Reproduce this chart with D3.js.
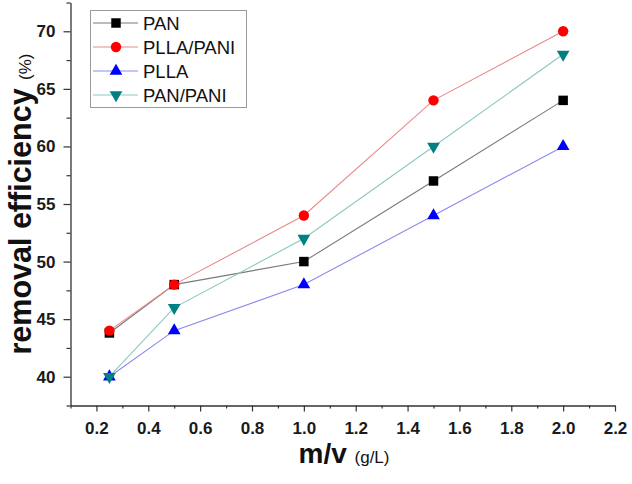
<!DOCTYPE html>
<html>
<head>
<meta charset="utf-8">
<script src="https://cdn.jsdelivr.net/npm/d3@7"></script>
<style>
  html, body { margin: 0; padding: 0; background: #fff; }
  svg { display: block; font-family: Arial, "Liberation Sans", sans-serif; }
</style>
</head>
<body>
<svg id="chart" width="632" height="484"></svg>
<script>
// ---- data ----
const xValues = [0.25, 0.5, 1.0, 1.5, 2.0];
const seriesNames = ["PAN", "PLLA/PANI", "PLLA", "PAN/PANI"];
const panValues = [43.8, 48, 50, 57, 64];
const pllaPaniValues = [44, 48, 54, 64, 70];
const pllaValues = [40, 44, 48, 54, 60];
const panPaniValues = [40, 46, 52, 60, 68];
const xTickLabels = [0.2, 0.4, 0.6, 0.8, 1.0, 1.2, 1.4, 1.6, 1.8, 2.0, 2.2];
const yTickLabels = [40, 45, 50, 55, 60, 65, 70];

const seriesStyle = [
  { marker: "square",   fill: "#000000", line: "#7a7a7a" },
  { marker: "circle",   fill: "#ff0000", line: "#e88a8a" },
  { marker: "triangle", fill: "#0000ff", line: "#8a8aee" },
  { marker: "down",     fill: "#008080", line: "#8cc8c2" }
];
const seriesValues = [panValues, pllaPaniValues, pllaValues, panPaniValues];

const svg = d3.select("#chart");
const x = d3.scaleLinear().domain([0.1, 2.2]).range([70.5, 615]);
const y = d3.scaleLinear().domain([37.5, 72.5]).range([405.5, 2.5]);

// ---- axes ----
const xMinor = d3.range(0.1, 2.25, 0.2).map(v => +v.toFixed(2));
const yMinor = d3.range(37.5, 73, 5);

const gx = svg.append("g").attr("transform", "translate(0,405.5)");
gx.call(d3.axisBottom(x).tickValues(xTickLabels).tickSize(6).tickSizeOuter(0).tickPadding(10)
  .tickFormat(d3.format(".1f")));
gx.append("g").call(d3.axisBottom(x).tickValues(xMinor).tickSize(3).tickSizeOuter(0).tickFormat(""))
  .select(".domain").remove();

const gy = svg.append("g").attr("transform", "translate(70.5,0)");
gy.call(d3.axisLeft(y).tickValues(yTickLabels).tickSize(7).tickSizeOuter(0).tickPadding(8)
  .tickFormat(d3.format("d")));
gy.append("g").call(d3.axisLeft(y).tickValues(yMinor).tickSize(4).tickSizeOuter(0).tickFormat(""))
  .select(".domain").remove();

svg.selectAll(".domain").attr("stroke", "#333").attr("stroke-width", 1.3);
svg.selectAll(".tick line").attr("stroke", "#333").attr("stroke-width", 1.2);
svg.selectAll(".tick text").attr("font-size", 17).attr("font-weight", "bold")
  .attr("fill", "#1a1a1a").attr("font-family", "Arial, 'Liberation Sans', sans-serif");

// ---- axis titles ----
const xt = svg.append("text").attr("x", 344).attr("y", 463).attr("text-anchor", "middle")
  .attr("fill", "#111");
xt.append("tspan").attr("font-size", 28).attr("font-weight", "bold").text("m/v ");
xt.append("tspan").attr("font-size", 17).text("(g/L)");

const yt = svg.append("text").attr("transform", "translate(31,204) rotate(-90)")
  .attr("text-anchor", "middle").attr("fill", "#111");
yt.append("tspan").attr("font-size", 30.5).attr("font-weight", "bold").text("removal efficiency ");
yt.append("tspan").attr("font-size", 17).text("(%)");

// ---- markers ----
function symbolPath(kind) {
  if (kind === "square") return d3.symbol(d3.symbolSquare, 90)();
  if (kind === "circle") return d3.symbol(d3.symbolCircle, 85)();
  return d3.symbol(d3.symbolTriangle, 70)();
}
function markerTransform(kind, px, py) {
  return kind === "down" ? `translate(${px},${py}) rotate(180)` : `translate(${px},${py})`;
}

const line = d3.line().x(d => x(d[0])).y(d => y(d[1]));
seriesValues.forEach((vals, i) => {
  const st = seriesStyle[i];
  const pts = xValues.map((xv, j) => [xv, vals[j]]);
  svg.append("path").datum(pts).attr("d", line).attr("fill", "none")
    .attr("stroke", st.line).attr("stroke-width", 1.1);
});
seriesValues.forEach((vals, i) => {
  const st = seriesStyle[i];
  svg.append("g").selectAll("path").data(xValues.map((xv, j) => [xv, vals[j]])).join("path")
    .attr("d", symbolPath(st.marker))
    .attr("transform", d => markerTransform(st.marker, x(d[0]), y(d[1])))
    .attr("fill", st.fill);
});

// ---- legend ----
const lg = svg.append("g");
lg.append("rect").attr("x", 90.5).attr("y", 10.5).attr("width", 156).attr("height", 97)
  .attr("fill", "#fff").attr("stroke", "#9a9a9a").attr("stroke-width", 1);
seriesNames.forEach((name, i) => {
  const st = seriesStyle[i];
  const cy = 23 + i * 24;
  lg.append("line").attr("x1", 93).attr("x2", 138).attr("y1", cy).attr("y2", cy)
    .attr("stroke", st.line).attr("stroke-width", 1.1);
  lg.append("path").attr("d", symbolPath(st.marker))
    .attr("transform", markerTransform(st.marker, 116, cy)).attr("fill", st.fill);
  lg.append("text").attr("x", 143).attr("y", cy + 6.5).attr("font-size", 18.5)
    .attr("fill", "#111").text(name);
});
</script>
</body>
</html>
